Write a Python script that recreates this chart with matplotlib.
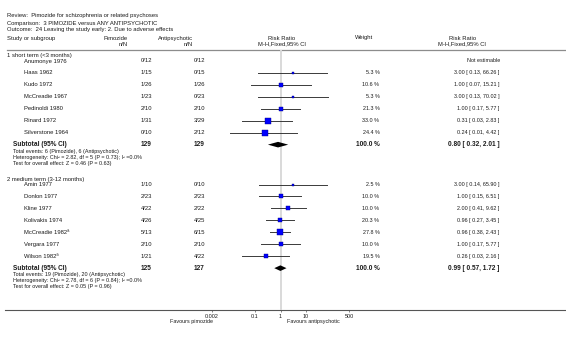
import matplotlib
matplotlib.use("Agg")
import matplotlib.pyplot as plt
from matplotlib.ticker import NullLocator

plt.rcParams["font.family"] = "Liberation Sans"

# -------------------------
# Data
# -------------------------
title_lines = [
    "Review:  Pimozide for schizophrenia or related psychoses",
    "Comparison:  3 PIMOZIDE versus ANY ANTIPSYCHOTIC",
    "Outcome:  24 Leaving the study early: 2. Due to adverse effects",
]

short_label = "1 short term (<3 months)"
short_studies = ["Anumonye 1976", "Haas 1962", "Kudo 1972", "McCreadie 1967",
                 "Pedinoldi 1980", "Rinard 1972", "Silverstone 1964"]
short_pim = ["0/12", "1/15", "1/26", "1/23", "2/10", "1/31", "0/10"]
short_anti = ["0/12", "0/15", "1/26", "0/23", "2/10", "3/29", "2/12"]
short_weight = [None, 5.3, 10.6, 5.3, 21.3, 33.0, 24.4]
short_rr = [None, 3.00, 1.00, 3.00, 1.00, 0.31, 0.24]
short_lo = [None, 0.13, 0.07, 0.13, 0.17, 0.03, 0.01]
short_hi = [None, 66.26, 15.21, 70.02, 5.77, 2.83, 4.42]
short_total = ("129", "129")
short_sub = (0.80, 0.32, 2.01)
short_notes = [
    "Total events: 6 (Pimozide), 6 (Antipsychotic)",
    "Heterogeneity: Chi\u00b2 = 2.82, df = 5 (P = 0.73); I\u00b2 =0.0%",
    "Test for overall effect: Z = 0.46 (P = 0.63)",
]

medium_label = "2 medium term (3-12 months)"
medium_studies = ["Amin 1977", "Donlon 1977", "Kline 1977", "Kolivakis 1974",
                  "McCreadie 1982\u00aa", "Vergara 1977", "Wilson 1982\u00aa"]
medium_pim = ["1/10", "2/23", "4/22", "4/26", "5/13", "2/10", "1/21"]
medium_anti = ["0/10", "2/23", "2/22", "4/25", "6/15", "2/10", "4/22"]
medium_weight = [2.5, 10.0, 10.0, 20.3, 27.8, 10.0, 19.5]
medium_rr = [3.00, 1.00, 2.00, 0.96, 0.96, 1.00, 0.26]
medium_lo = [0.14, 0.15, 0.41, 0.27, 0.38, 0.17, 0.03]
medium_hi = [65.90, 6.51, 9.62, 3.45, 2.43, 5.77, 2.16]
medium_total = ("125", "127")
medium_sub = (0.99, 0.57, 1.72)
medium_notes = [
    "Total events: 19 (Pimozide), 20 (Antipsychotic)",
    "Heterogeneity: Chi\u00b2 = 2.78, df = 6 (P = 0.84); I\u00b2 =0.0%",
    "Test for overall effect: Z = 0.05 (P = 0.96)",
]

axis_ticks = [0.002, 0.1, 1, 10, 500]
axis_tick_labels = ["0.002", "0.1", "1", "10", "500"]

# -------------------------
# Figure and layout (pixel units, y from top)
# -------------------------
W, H = 566, 341
fig = plt.figure(figsize=(W / 100, H / 100), dpi=100)
bg = fig.add_axes([0, 0, 1, 1])
bg.set_xlim(0, W)
bg.set_ylim(H, 0)
bg.axis("off")

header_y = 49.5
axis_y = 310
fs = 4.2
fs_bold = 4.7
tc = "#1a1a1a"

forest = fig.add_axes([211.7 / W, (H - axis_y) / H, 137.6 / W, (axis_y - header_y) / H])
forest.set_xscale("log")
forest.set_xlim(0.002, 500)
forest.set_ylim(axis_y, header_y)
forest.patch.set_alpha(0)
for sp in forest.spines.values():
    sp.set_visible(False)
forest.set_yticks([])
forest.set_xticks(axis_ticks)
forest.set_xticklabels(axis_tick_labels)
forest.xaxis.set_minor_locator(NullLocator())
forest.tick_params(axis="x", direction="out", length=1.6, width=0.5, color="#555555",
                   labelsize=3.9, pad=1.2, labelcolor=tc)
forest.axvline(1, color="#d9d9d9", lw=1.4, zorder=0)


def txt(x, y, s, ha="left", bold=False, size=None):
    bg.text(x, y, s, ha=ha, va="center", color=tc,
            fontsize=size or (fs_bold if bold else fs),
            fontweight="bold" if bold else "normal")


# title block
for i, line in enumerate(title_lines):
    txt(7, 16 + 7 * i, line)

# column headers
txt(7, 38.5, "Study or subgroup")
txt(128, 38.5, "Pimozide", ha="right")
txt(128, 44.5, "n/N", ha="right")
txt(193, 38.5, "Antipsychotic", ha="right")
txt(193, 44.5, "n/N", ha="right")
txt(282, 38, "Risk Ratio", ha="center")
txt(282, 43.5, "M-H,Fixed,95% CI", ha="center")
txt(355, 38, "Weight")
txt(462.5, 38, "Risk Ratio", ha="center")
txt(462.5, 43.5, "M-H,Fixed,95% CI", ha="center")
bg.plot([7, W], [header_y, header_y], color="#8c8c8c", lw=0.9)

# -------------------------
# Subgroups
# -------------------------
groups = [
    (short_label, short_studies, short_pim, short_anti, short_weight, short_rr,
     short_lo, short_hi, short_total, short_sub, short_notes, 56),
    (medium_label, medium_studies, medium_pim, medium_anti, medium_weight, medium_rr,
     medium_lo, medium_hi, medium_total, medium_sub, medium_notes, 179.5),
]

for (label, studies, pim, anti, weight, rr, lo, hi, total, sub, notes, y0) in groups:
    txt(7, y0, label)
    y = y0 + 5
    for i in range(len(studies)):
        txt(24, y, studies[i])
        txt(141, y, pim[i])
        txt(194, y, anti[i])
        if rr[i] is None:
            txt(500, y, "Not estimable", ha="right", size=3.9)
        else:
            txt(379.5, y, f"{weight[i]:.1f} %", ha="right", size=3.9)
            txt(499.5, y, f"{rr[i]:.2f} [ {lo[i]:.2f}, {hi[i]:.2f} ]", ha="right", size=3.9)
            forest.plot([lo[i], hi[i]], [y, y], color="#3a3a3a", lw=0.7, zorder=2)
            # square side in px grows with weight
            side = 0.6 + 0.95 * weight[i] ** 0.5
            forest.plot([rr[i]], [y], marker="s", markersize=side * 0.72,
                        markerfacecolor="#0000ff", markeredgecolor="#000080",
                        markeredgewidth=0.3, zorder=3)
        y += 11.95
    # subtotal row
    txt(13, y, "Subtotal (95% CI)", bold=True)
    txt(141, y, total[0], bold=True)
    txt(194, y, total[1], bold=True)
    txt(379.5, y, "100.0 %", ha="right", bold=True)
    txt(499.5, y, f"{sub[0]:.2f} [ {sub[1]:.2f}, {sub[2]:.2f} ]", ha="right", bold=True)
    est, dlo, dhi = sub
    forest.fill([dlo, est, dhi, est], [y, y - 2.8, y, y + 2.8], color="black", lw=0, zorder=3)
    for j, note in enumerate(notes):
        txt(13, y + 6.5 + 6 * j, note, size=3.9)

# bottom axis line and labels
bg.plot([5, W], [axis_y, axis_y], color="#555555", lw=0.8)
txt(213, 321.7, "Favours pimozide", ha="right", size=3.9)
txt(287, 321.7, "Favours antipsychotic", size=3.9)

fig.savefig("out.png", dpi=100)
